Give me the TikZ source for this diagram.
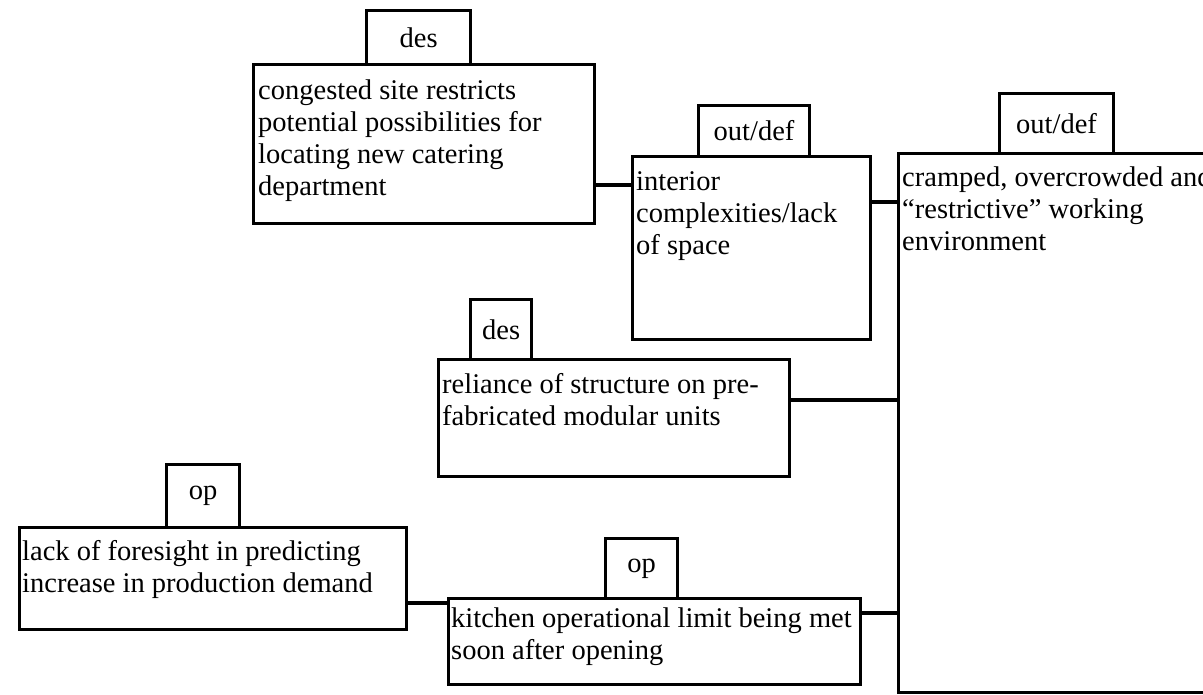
\documentclass[tikz,border=0pt]{standalone}
\usepackage{fontspec}
\setmainfont{Liberation Serif}
\begin{document}
\begin{tikzpicture}[x=1pt,y=-1pt,
  frame/.style={draw=black, line width=3.2pt, inner sep=0pt, anchor=north west},
  tagbox/.style={draw=black, line width=3.2pt, inner sep=0pt, anchor=north west,
    font=\fontsize{28.5}{32}\selectfont},
  words/.style={anchor=north west, inner sep=0pt, align=left,
    font=\fontsize{28.5}{32}\selectfont, execute at begin node=\strut},
  link/.style={draw=black, line width=3.2pt}]

\useasboundingbox (0,0) rectangle (1203,694);
\fill[white] (0,0) rectangle (1203,694);
\clip (0,0) rectangle (1203,694);

% main boxes
\node[frame, minimum width=341pt, minimum height=159pt] (cong) at (252,63) {};
\node[frame, minimum width=238pt, minimum height=183pt] (inter) at (631,155) {};
\node[frame, minimum width=330pt, minimum height=539pt] (big) at (897,152) {};
\node[frame, minimum width=351pt, minimum height=117pt] (rel) at (437,358) {};
\node[frame, minimum width=387pt, minimum height=102pt] (lack) at (18,526) {};
\node[frame, minimum width=412pt, minimum height=86pt] (kit) at (447,597) {};

% category tags on the top edges
\node[tagbox, minimum width=104pt, minimum height=54pt] (tdesA) at (365,9) {des};
\node[tagbox, minimum width=111pt, minimum height=51pt] (toutA) at (697,104) {out/def};
\node[tagbox, minimum width=114pt, minimum height=60pt] (toutB) at (998,92) {out/def};
\node[tagbox, minimum width=61pt, minimum height=60pt] (tdesB) at (469,298) {des};
\node[tagbox, minimum width=73pt, minimum height=63pt] (topA) at (165,463) {op};
\node[tagbox, minimum width=72pt, minimum height=60pt] (topB) at (604,537) {op};

% box texts
\node[words] (cong-t) at ([shift={(6,17)}]cong.north west)
  {congested site restricts\\potential possibilities for\\locating new catering\\department};
\node[words] (inter-t) at ([shift={(5,16)}]inter.north west)
  {interior\\complexities/lack\\of space};
\node[words] (big-t) at ([shift={(5,15)}]big.north west)
  {cramped, overcrowded and\\“restrictive” working\\environment};
\node[words] (rel-t) at ([shift={(5,15)}]rel.north west)
  {reliance of structure on pre-\\fabricated modular units};
\node[words] (lack-t) at ([shift={(4,14)}]lack.north west)
  {lack of foresight in predicting\\increase in production demand};
\node[words] (kit-t) at ([shift={(4,11)}]kit.north west)
  {kitchen operational limit being met\\soon after opening};

% connector heights
\coordinate (h1) at (0,185);
\coordinate (h2) at (0,202);
\coordinate (h3) at (0,400);
\coordinate (h4) at (0,603);
\coordinate (h5) at (0,613);

% connectors
\draw[link] (cong.east |- h1) -- (inter.west |- h1);
\draw[link] (inter.east |- h2) -- (big.west |- h2);
\draw[link] (rel.east |- h3) -- (big.west |- h3);
\draw[link] (lack.east |- h4) -- (kit.west |- h4);
\draw[link] (kit.east |- h5) -- (big.west |- h5);
\end{tikzpicture}
\end{document}
